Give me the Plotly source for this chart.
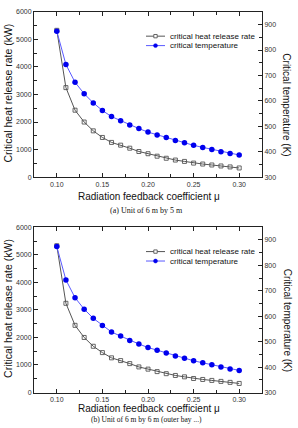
import plotly.graph_objects as go

mu = [0.10, 0.11, 0.12, 0.13, 0.14, 0.15, 0.16, 0.17, 0.18, 0.19, 0.20,
      0.21, 0.22, 0.23, 0.24, 0.25, 0.26, 0.27, 0.28, 0.29, 0.30]
hrr_a = [5330, 3250, 2430, 2000, 1680, 1440, 1260, 1160, 1050, 930, 850,
         760, 685, 620, 570, 510, 475, 440, 405, 370, 332]
temp_a = [874, 743, 673, 628, 592, 562, 538, 522, 505, 491, 477,
          466, 456, 444, 435, 425, 417, 409, 400, 393, 387]
hrr_b = [5330, 3240, 2440, 2000, 1680, 1450, 1260, 1160, 1050, 930, 850,
         760, 685, 620, 570, 510, 475, 440, 405, 370, 330]
temp_b = [874, 743, 673, 628, 592, 564, 538, 522, 505, 491, 477,
          466, 456, 444, 435, 425, 417, 409, 400, 393, 387]

captions = ["(a) Unit of 6 m by 5 m", "(b) Unit of 6 m by 6 m (outer bay ...)"]
x_title = "Radiation feedback coefficient \u03bc"
yl_title = "Critical heat release rate (kW)"
yr_title = "Critical temperature (K)"
names = ["critical heat release rate", "critical temperature"]

W, H = 298, 428
GRAY = "#555555"
BLUE_LINE = "#5a5aff"
BLUE_MK = "#0000ee"
AX = "#222222"
FONT = "Liberation Sans, Arial, sans-serif"


def py(p):
    return 1 - p / H


def px(p):
    return p / W


fig = go.Figure()

panels = [
    (hrr_a, temp_a, "x", "y", "y2"),
    (hrr_b, temp_b, "x2", "y3", "y4"),
]

for hrr, temp, xa, ya, yb in panels:
    fig.add_trace(go.Scatter(
        x=mu, y=hrr, xaxis=xa, yaxis=ya, mode="lines+markers",
        line=dict(color=GRAY, width=1),
        marker=dict(symbol="square-open", size=4, color=GRAY, line=dict(width=0.9)),
        showlegend=False))
    fig.add_trace(go.Scatter(
        x=mu, y=temp, xaxis=xa, yaxis=yb, mode="lines+markers",
        line=dict(color=BLUE_LINE, width=1),
        marker=dict(symbol="circle", size=5.5, color=BLUE_MK),
        showlegend=False))

xdom = [34 / W, 262 / W]
tickfont = dict(family=FONT, size=7, color="#333333")


def xaxis_cfg(anchor):
    return dict(domain=xdom, anchor=anchor, range=[0.075, 0.325],
                tick0=0.1, dtick=0.05, tickformat=".2f",
                ticks="inside", ticklen=4, tickwidth=0.8, tickcolor=AX,
                minor=dict(dtick=0.025, ticks="inside", ticklen=3, tickcolor=AX, tickwidth=0.8),
                showline=True, linecolor=AX, linewidth=1, mirror="ticks",
                showgrid=False, zeroline=False, tickfont=tickfont)


def yl_cfg(anchor, dom):
    return dict(domain=dom, anchor=anchor, range=[0, 6000], dtick=1000,
                ticks="inside", ticklen=4, tickwidth=0.8, tickcolor=AX,
                minor=dict(dtick=500, ticks="inside", ticklen=3, tickcolor=AX, tickwidth=0.8),
                showline=True, linecolor=AX, linewidth=1,
                showgrid=False, zeroline=False, tickfont=tickfont)


def yr_cfg(anchor, over):
    return dict(overlaying=over, anchor=anchor, side="right", range=[300, 950],
                tick0=300, dtick=100,
                ticks="inside", ticklen=4, tickwidth=0.8, tickcolor=AX,
                minor=dict(dtick=50, ticks="inside", ticklen=3, tickcolor=AX, tickwidth=0.8),
                showline=True, linecolor=AX, linewidth=1,
                showgrid=False, zeroline=False, tickfont=tickfont)


dom_a = [py(176), py(8)]
dom_b = [py(395), py(227)]

fig.update_layout(
    width=W, height=H, margin=dict(l=0, r=0, t=0, b=0),
    paper_bgcolor="white", plot_bgcolor="white",
    showlegend=False,
    xaxis=xaxis_cfg("y"), yaxis=yl_cfg("x", dom_a), yaxis2=yr_cfg("x", "y"),
    xaxis2=xaxis_cfg("y3"), yaxis3=yl_cfg("x2", dom_b), yaxis4=yr_cfg("x2", "y3"),
)

annots = []
shapes = []
for i, off in enumerate([0, 219]):
    xt_y = 196 + off if i == 0 else 411
    annots.append(dict(text=x_title, x=px(149), y=py(xt_y), xref="paper", yref="paper",
                       showarrow=False, font=dict(family=FONT, size=10, color="#111"),
                       xanchor="center", yanchor="middle", borderpad=0))
    annots.append(dict(text=yl_title, x=px(8), y=py(91 + off), xref="paper", yref="paper",
                       showarrow=False, textangle=-90,
                       font=dict(family=FONT, size=10.5, color="#111"),
                       xanchor="center", yanchor="middle"))
    annots.append(dict(text=yr_title, x=px(287), y=py(102 + off), xref="paper", yref="paper",
                       showarrow=False, textangle=90,
                       font=dict(family=FONT, size=10, color="#111"),
                       xanchor="center", yanchor="middle"))
    rows = [(32.7 + off, GRAY, "square"), (42.3 + off, BLUE_LINE, "circle")]
    for (yy, col, kind), nm in zip(rows, names):
        shapes.append(dict(type="line", xref="paper", yref="paper",
                           x0=px(146), x1=px(165), y0=py(yy), y1=py(yy),
                           line=dict(color=col, width=1)))
        if kind == "square":
            shapes.append(dict(type="rect", xref="paper", yref="paper",
                               x0=px(153.8), x1=px(157.2), y0=py(yy + 1.7), y1=py(yy - 1.7),
                               line=dict(color=GRAY, width=0.9), fillcolor="white"))
        else:
            shapes.append(dict(type="circle", xref="paper", yref="paper",
                               x0=px(153.5), x1=px(157.5), y0=py(yy + 2), y1=py(yy - 2),
                               line=dict(color=BLUE_MK, width=0.5), fillcolor=BLUE_MK))
        annots.append(dict(text=nm, x=px(168), y=py(yy), xref="paper", yref="paper",
                           showarrow=False, font=dict(family=FONT, size=8, color="#111"),
                           xanchor="left", yanchor="middle"))

serif = dict(family="Liberation Serif, Times New Roman, serif", size=8, color="#111")
annots.append(dict(text=captions[0], x=px(146), y=py(210), xref="paper", yref="paper",
                   showarrow=False, font=serif, xanchor="center", yanchor="middle"))
annots.append(dict(text=captions[1], x=px(146), y=py(428), xref="paper", yref="paper",
                   showarrow=False, font=dict(serif, size=7.5), borderpad=0,
                   xanchor="center", yanchor="bottom"))

fig.update_layout(annotations=annots, shapes=shapes)
fig.write_html("out.html")
